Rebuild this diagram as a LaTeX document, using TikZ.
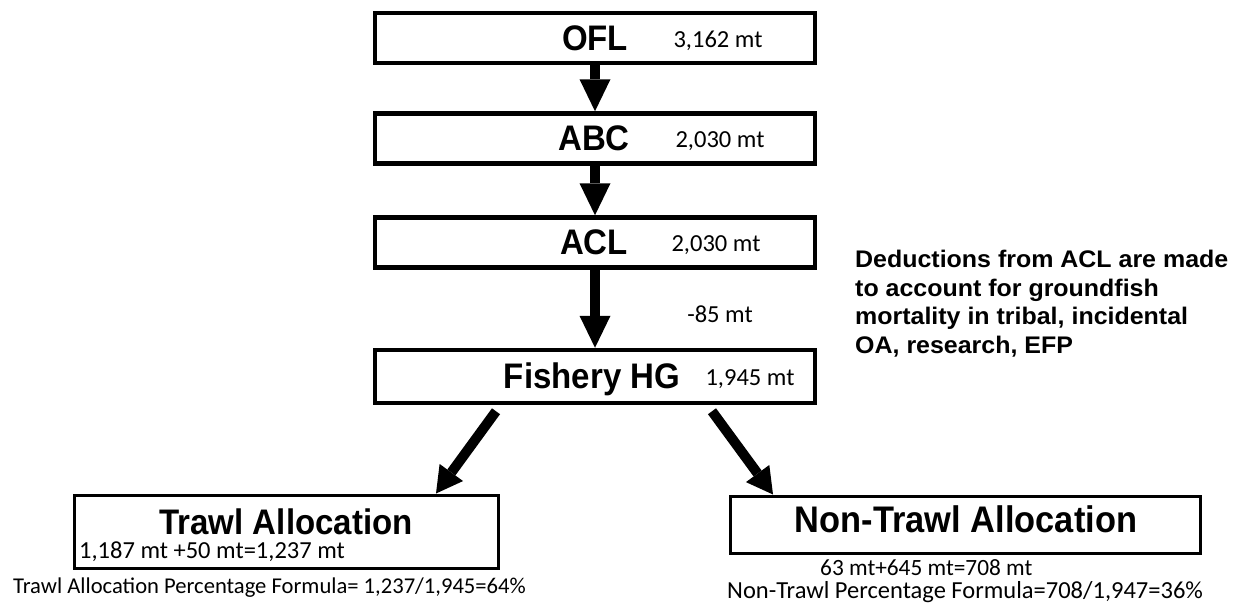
\documentclass[tikz,border=0pt]{standalone}
\usepackage{fontspec}
\setmainfont{Liberation Sans}
\newfontfamily\numfont{Carlito}
\newfontfamily\headfont{Liberation Sans}[FakeStretch=0.93]
\newfontfamily\notefont{Liberation Sans}[FakeStretch=1.04]
\usetikzlibrary{arrows.meta}

\begin{document}
\begin{tikzpicture}[x=1pt,y=-1pt,
  stagebox/.style={draw, line width=4.5pt, minimum width=440pt, minimum height=#1, inner sep=0pt},
  stagebox/.default=50pt,
  allocbox/.style={draw, line width=3pt, inner sep=0pt},
  headlbl/.style={font=\headfont\bfseries\fontsize{35.5}{35.5}\selectfont, inner sep=0pt, anchor=base},
  amount/.style={font=\numfont\fontsize{24.5}{24.5}\selectfont, inner sep=0pt, anchor=base},
  flow/.style={line width=10pt, -{Triangle[length=32pt,width=31pt,line width=0pt]}},
  split/.style={line width=10pt, -{Triangle[length=26pt,width=29pt,line width=0pt]}},
]
\useasboundingbox (0,0) rectangle (1247,605);
\fill[white] (0,0) rectangle (1247,605);

% catch-limit stages
\node[stagebox] (ofl) at (595,38) {};
\node[stagebox] (abc) at (595,138.5) {};
\node[stagebox] (acl) at (595,242.5) {};
\node[stagebox=53pt] (fhg) at (595,376.5) {};

\node[headlbl] (ofllbl) at (595,50) {OFL};
\node[amount] (oflamt) at (718,47) {3,162 mt};
\node[headlbl] (abclbl) at (594,150.5) {ABC};
\node[amount] (abcamt) at (720,147.5) {2,030 mt};
\node[headlbl] (acllbl) at (594,254.5) {ACL};
\node[amount] (aclamt) at (716,251.5) {2,030 mt};
\node[headlbl] (fhglbl) at (592,388) {Fishery HG};
\node[amount] (fhgamt) at (750,385) {1,945 mt};

\draw[flow] (ofl) -- (abc);
\draw[flow] (abc) -- (acl);
\draw[flow] (acl) -- (fhg);
\node[amount] (deduct) at (720,322) {-85 mt};

\node[anchor=north west, inner sep=0pt, align=left,
      font=\notefont\bfseries\fontsize{24}{28.5}\selectfont] (note) at (855,250)
  {Deductions from ACL are made\\to account for groundfish\\mortality in tribal, incidental\\OA, research, EFP};

% sector allocations
\node[allocbox, minimum width=424pt, minimum height=73pt] (trawl) at (286,531.5) {};
\node[allocbox, minimum width=470pt, minimum height=57pt] (nontrawl) at (965,524.5) {};

\draw[split] ([xshift=-99pt,yshift=-6pt]fhg.south) -- ([xshift=150pt]trawl.north);
\draw[split] ([xshift=117pt,yshift=-6pt]fhg.south) -- ([xshift=-192pt]nontrawl.north);

\node[headlbl] (trawllbl) at (286,534) {Trawl Allocation};
\node[amount, anchor=base west] (trawlamt) at (79,558) {1,187 mt +50 mt=1,237 mt};
\node[amount, anchor=base west, font=\numfont\fontsize{22.6}{22.6}\selectfont] (trawlpct) at (13,593)
  {Trawl Allocation Percentage Formula= 1,237/1,945=64\%};

\node[headlbl, font=\headfont\bfseries\fontsize{37}{37}\selectfont] (ntlbl) at (966,532) {Non-Trawl Allocation};
\node[amount, anchor=base west, font=\numfont\fontsize{23.3}{23.3}\selectfont] (ntamt) at (820,575) {63 mt+645 mt=708 mt};
\node[amount, anchor=base west] (ntpct) at (727,598) {Non-Trawl Percentage Formula=708/1,947=36\%};
\end{tikzpicture}
\end{document}
